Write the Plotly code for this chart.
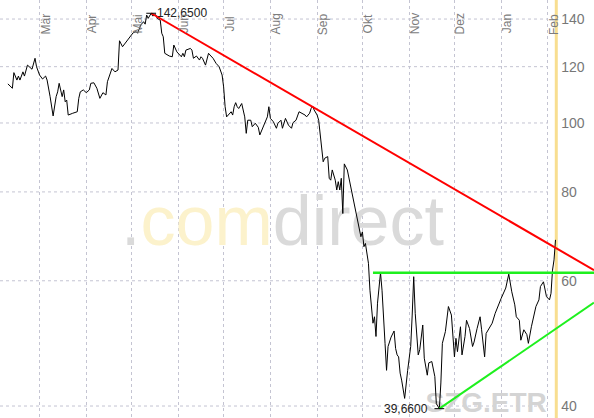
import math
import plotly.graph_objects as go

# ---------------- data ----------------
price_dates = [
    "2008-02-09", "2008-02-12", "2008-02-13", "2008-02-15", "2008-02-16", "2008-02-17", "2008-02-19",
    "2008-02-20", "2008-02-22", "2008-02-24", "2008-02-25", "2008-02-27", "2008-02-28", "2008-03-01",
    "2008-03-03", "2008-03-05", "2008-03-06", "2008-03-08", "2008-03-10", "2008-03-12", "2008-03-13",
    "2008-03-14", "2008-03-16", "2008-03-17", "2008-03-18", "2008-03-19", "2008-03-20", "2008-03-23",
    "2008-03-26", "2008-03-27", "2008-03-28", "2008-03-30", "2008-04-01", "2008-04-03", "2008-04-04",
    "2008-04-06", "2008-04-08", "2008-04-10", "2008-04-12", "2008-04-14", "2008-04-15", "2008-04-18",
    "2008-04-20", "2008-04-22", "2008-04-23", "2008-04-25", "2008-04-27", "2008-04-30", "2008-05-02",
    "2008-05-04", "2008-05-05", "2008-05-07", "2008-05-09", "2008-05-10", "2008-05-11", "2008-05-12",
    "2008-05-14", "2008-05-15", "2008-05-17", "2008-05-18", "2008-05-20", "2008-05-21", "2008-05-22",
    "2008-05-23", "2008-05-26", "2008-05-28", "2008-05-29", "2008-05-31", "2008-06-01", "2008-06-03",
    "2008-06-04", "2008-06-05", "2008-06-06", "2008-06-09", "2008-06-10", "2008-06-11", "2008-06-13",
    "2008-06-15", "2008-06-16", "2008-06-17", "2008-06-19", "2008-06-21", "2008-06-22", "2008-06-24",
    "2008-06-26", "2008-06-28", "2008-06-30", "2008-07-01", "2008-07-02", "2008-07-03", "2008-07-06",
    "2008-07-07", "2008-07-08", "2008-07-09", "2008-07-10", "2008-07-11", "2008-07-13", "2008-07-15",
    "2008-07-16", "2008-07-17", "2008-07-19", "2008-07-20", "2008-07-22", "2008-07-24", "2008-07-25",
    "2008-07-27", "2008-07-28", "2008-07-30", "2008-07-31", "2008-08-01", "2008-08-03", "2008-08-05",
    "2008-08-06", "2008-08-08", "2008-08-09", "2008-08-11", "2008-08-13", "2008-08-15", "2008-08-16",
    "2008-08-18", "2008-08-20", "2008-08-22", "2008-08-24", "2008-08-25", "2008-08-27", "2008-08-28",
    "2008-08-29", "2008-08-30", "2008-09-01", "2008-09-02", "2008-09-03", "2008-09-04", "2008-09-05",
    "2008-09-06", "2008-09-08", "2008-09-09", "2008-09-10", "2008-09-11", "2008-09-13", "2008-09-14",
    "2008-09-15", "2008-09-16", "2008-09-17", "2008-09-18", "2008-09-19", "2008-09-21", "2008-09-23",
    "2008-09-25", "2008-09-27", "2008-09-29", "2008-09-30", "2008-10-01", "2008-10-02", "2008-10-03",
    "2008-10-04", "2008-10-05", "2008-10-06", "2008-10-07", "2008-10-08", "2008-10-09", "2008-10-10",
    "2008-10-11", "2008-10-13", "2008-10-14", "2008-10-15", "2008-10-16", "2008-10-17", "2008-10-18",
    "2008-10-20", "2008-10-22", "2008-10-23", "2008-10-24", "2008-10-25", "2008-10-26", "2008-10-27",
    "2008-10-28", "2008-10-29", "2008-10-31", "2008-11-02", "2008-11-03", "2008-11-04", "2008-11-05",
    "2008-11-07", "2008-11-08", "2008-11-10", "2008-11-11", "2008-11-13", "2008-11-14", "2008-11-16",
    "2008-11-18", "2008-11-19", "2008-11-21", "2008-11-22", "2008-11-23", "2008-11-25", "2008-11-27",
    "2008-11-29", "2008-12-01", "2008-12-02", "2008-12-03", "2008-12-05", "2008-12-06", "2008-12-08",
    "2008-12-09", "2008-12-11", "2008-12-13", "2008-12-14", "2008-12-16", "2008-12-18", "2008-12-19",
    "2008-12-21", "2008-12-22", "2008-12-24", "2008-12-26", "2008-12-28", "2008-12-30", "2009-01-01",
    "2009-01-04", "2009-01-06", "2009-01-08", "2009-01-10", "2009-01-11", "2009-01-13", "2009-01-14",
    "2009-01-16", "2009-01-18", "2009-01-19", "2009-01-21", "2009-01-22", "2009-01-24", "2009-01-26",
    "2009-01-27", "2009-01-29", "2009-01-30", "2009-01-31", "2009-02-02", "2009-02-03", "2009-02-04",
    "2009-02-05", "2009-02-06",
]
price_values = [
    113.5, 111.9, 117.7, 114.9, 116.4, 114.9, 118.0,
    116.4, 120.6, 119.3, 119.0, 123.3, 120.0, 116.8,
    115.3, 116.4, 114.9, 108.9, 102.3, 108.9, 110.6,
    113.7, 108.9, 111.3, 107.1, 107.7, 102.6, 103.2,
    103.7, 108.3, 110.6, 111.3, 110.3, 111.3, 113.7,
    113.9, 111.9, 108.3, 110.3, 109.5, 114.3, 119.3,
    118.0, 118.7, 130.5, 128.0, 129.7, 132.0, 133.9,
    134.4, 133.7, 137.3, 138.8, 137.7, 141.8, 140.3,
    142.65, 141.4, 142.0, 140.3, 139.5, 133.7, 132.2,
    125.3, 124.2, 123.9, 128.7, 125.9, 125.3, 123.9,
    125.3, 123.9, 126.6, 127.3, 126.6, 123.3, 124.2,
    122.6, 123.9, 123.3, 120.6, 125.3, 124.6, 123.3,
    121.3, 120.0, 116.8, 112.4, 105.4, 102.0, 103.7,
    102.6, 105.4, 106.8, 105.4, 104.8, 106.5, 102.0,
    96.7, 100.9, 100.9, 98.8, 99.9, 98.6, 96.2,
    98.3, 99.9, 102.0, 105.4, 101.5, 100.4, 98.3,
    99.9, 100.9, 98.3, 101.5, 99.3, 98.3, 100.1,
    100.9, 103.7, 103.2, 102.6, 102.0, 103.2, 104.8,
    105.6, 104.3, 102.6, 100.9, 96.7, 91.6, 88.2,
    89.2, 89.7, 83.6, 83.1, 85.9, 83.1, 80.5,
    82.7, 80.5, 83.6, 74.6, 87.6, 85.9, 81.8,
    77.9, 74.2, 70.7, 69.2, 70.3, 67.0, 67.7,
    65.2, 63.5, 58.2, 54.6, 52.3, 53.4, 50.1,
    55.8, 61.6, 58.2, 52.3, 49.0, 44.9, 48.5,
    50.0, 51.0, 48.2, 47.2, 46.9, 44.5, 43.5,
    41.9, 41.0, 44.9, 48.5, 53.7, 60.8, 54.0,
    47.2, 48.0, 52.0, 46.7, 44.2, 46.0, 46.2,
    44.0, 40.3, 39.66, 43.1, 49.0, 50.9, 55.2,
    53.7, 46.9, 49.8, 47.7, 51.7, 47.2, 50.1,
    52.8, 51.4, 48.5, 49.2, 51.4, 53.4, 51.2,
    46.9, 50.6, 51.4, 52.3, 54.0, 55.5, 56.7,
    58.6, 61.3, 57.9, 55.5, 53.4, 52.8, 49.5,
    51.2, 50.4, 49.0, 51.7, 52.8, 55.2, 56.4,
    58.9, 59.8, 58.2, 57.0, 56.4, 57.6, 62.1,
    64.2, 68.5,
]

# extreme points (high / low) with their labels
extreme_dates = ["2008-05-14", "2008-11-21"]
extreme_values = [142.65, 39.66]
extreme_labels = ["142,6500", "39,6600"]

# trend lines
red_dates = ["2008-05-14", "2009-03-03 12:00"]
red_values = [142.65, 62.1]
green_h_dates = ["2008-10-08", "2009-03-03 12:00"]
green_h_values = [61.6, 61.6]
green_up_dates = ["2008-11-21", "2009-03-03 12:00"]
green_up_values = [39.66, 55.9]

# axes
month_ticks = ["2008-03-01", "2008-04-01", "2008-05-01", "2008-06-01", "2008-07-01", "2008-08-01",
               "2008-09-01", "2008-10-01", "2008-11-01", "2008-12-01", "2009-01-01", "2009-02-01"]
month_labels = ["Mär", "Apr", "Mai", "Jun", "Jul", "Aug", "Sep", "Okt", "Nov", "Dez", "Jan", "Feb"]
y_ticks = [40, 60, 80, 100, 120, 140]
x_range = ["2008-02-03 19:00", "2009-03-03 12:00"]
y_range_vals = [38.48, 148.9]
today_date = "2009-02-06 12:00"

FONT = "Liberation Sans, Arial, sans-serif"
GRID = "#c4c4d2"

fig = go.Figure()

# watermarks (drawn first so the data lines lie on top)
fig.add_trace(go.Scatter(
    x=["2008-08-09"], y=[71.3], mode="text",
    text=["<span style='color:#dadada'>.</span><span style='color:#fcf2cc'>com</span>"
          "<span style='color:#dadada'>direct</span>"],
    textposition="middle center",
    textfont=dict(family=FONT, size=70, color="#dadada"),
    hoverinfo="skip", showlegend=False,
))
fig.add_trace(go.Scatter(
    x=["2008-12-22"], y=[40.1], mode="text", text=["SZG.ETR"],
    textposition="middle center",
    textfont=dict(family=FONT, size=28, color="#d4d4d4", weight="bold"),
    hoverinfo="skip", showlegend=False,
))

# price line
fig.add_trace(go.Scatter(
    x=price_dates, y=price_values, mode="lines",
    line=dict(color="black", width=1), showlegend=False,
))

# trend lines
fig.add_trace(go.Scatter(x=red_dates, y=red_values, mode="lines",
                         line=dict(color="#ff0000", width=2), showlegend=False))
fig.add_trace(go.Scatter(x=green_h_dates, y=green_h_values, mode="lines",
                         line=dict(color="#1ef01e", width=2.5), showlegend=False))
fig.add_trace(go.Scatter(x=green_up_dates, y=green_up_values, mode="lines",
                         line=dict(color="#1ef01e", width=2), showlegend=False))

# high/low markers
fig.add_trace(go.Scatter(
    x=extreme_dates, y=extreme_values, mode="markers",
    marker=dict(symbol="line-ew", size=7, line=dict(color="black", width=1)),
    showlegend=False,
))

# labels for extremes
fig.add_annotation(x=extreme_dates[0], y=math.log10(extreme_values[0]), text=extreme_labels[0],
                   showarrow=False, xanchor="left", yanchor="middle", xshift=4,
                   font=dict(family=FONT, size=12, color="#222"))
fig.add_annotation(x=extreme_dates[1], y=math.log10(extreme_values[1]), text=extreme_labels[1],
                   showarrow=False, xanchor="right", yanchor="middle", xshift=-9,
                   font=dict(family=FONT, size=12, color="#222"))

# month labels (rotated, inside the top of the plot, just right of each month line)
for d, lab in zip(month_ticks, month_labels):
    fig.add_annotation(x=d, xref="x", y=1, yref="paper", text=lab, textangle=-90,
                       showarrow=False, xanchor="center", yanchor="middle",
                       xshift=6, yshift=-24,
                       font=dict(family=FONT, size=12, color="#7c7c7c"))

# horizontal gridlines (end at the last month line)
for v in y_ticks:
    fig.add_shape(type="line", xref="x", yref="y", x0=x_range[0], x1=month_ticks[-1],
                  y0=v, y1=v, line=dict(color=GRID, width=1, dash="dot"), layer="below")

# current-date marker
fig.add_shape(type="line", xref="x", yref="paper", x0=today_date, x1=today_date, y0=0, y1=1,
              line=dict(color="#f8de90", width=3), layer="below")

fig.update_layout(
    width=594, height=418,
    margin=dict(l=0, r=0, t=0, b=0),
    paper_bgcolor="white", plot_bgcolor="white",
    font=dict(family=FONT),
    xaxis=dict(
        type="date", range=x_range,
        tickmode="array", tickvals=month_ticks, ticktext=month_labels,
        showticklabels=False,
        showgrid=True, gridcolor=GRID, griddash="dot", gridwidth=1,
        ticks="", showline=False, zeroline=False,
    ),
    yaxis=dict(
        type="log", range=[math.log10(y_range_vals[0]), math.log10(y_range_vals[1])],
        tickmode="array", tickvals=y_ticks, ticktext=[str(v) for v in y_ticks],
        side="right", anchor="free", position=0.943,
        tickfont=dict(size=14, color="#777", family=FONT),
        showgrid=False, ticks="", showline=False, zeroline=False,
    ),
)

fig.write_html("out.html", config={"displayModeBar": False},
               post_script="document.body.style.margin='0';document.body.style.overflow='hidden';")
